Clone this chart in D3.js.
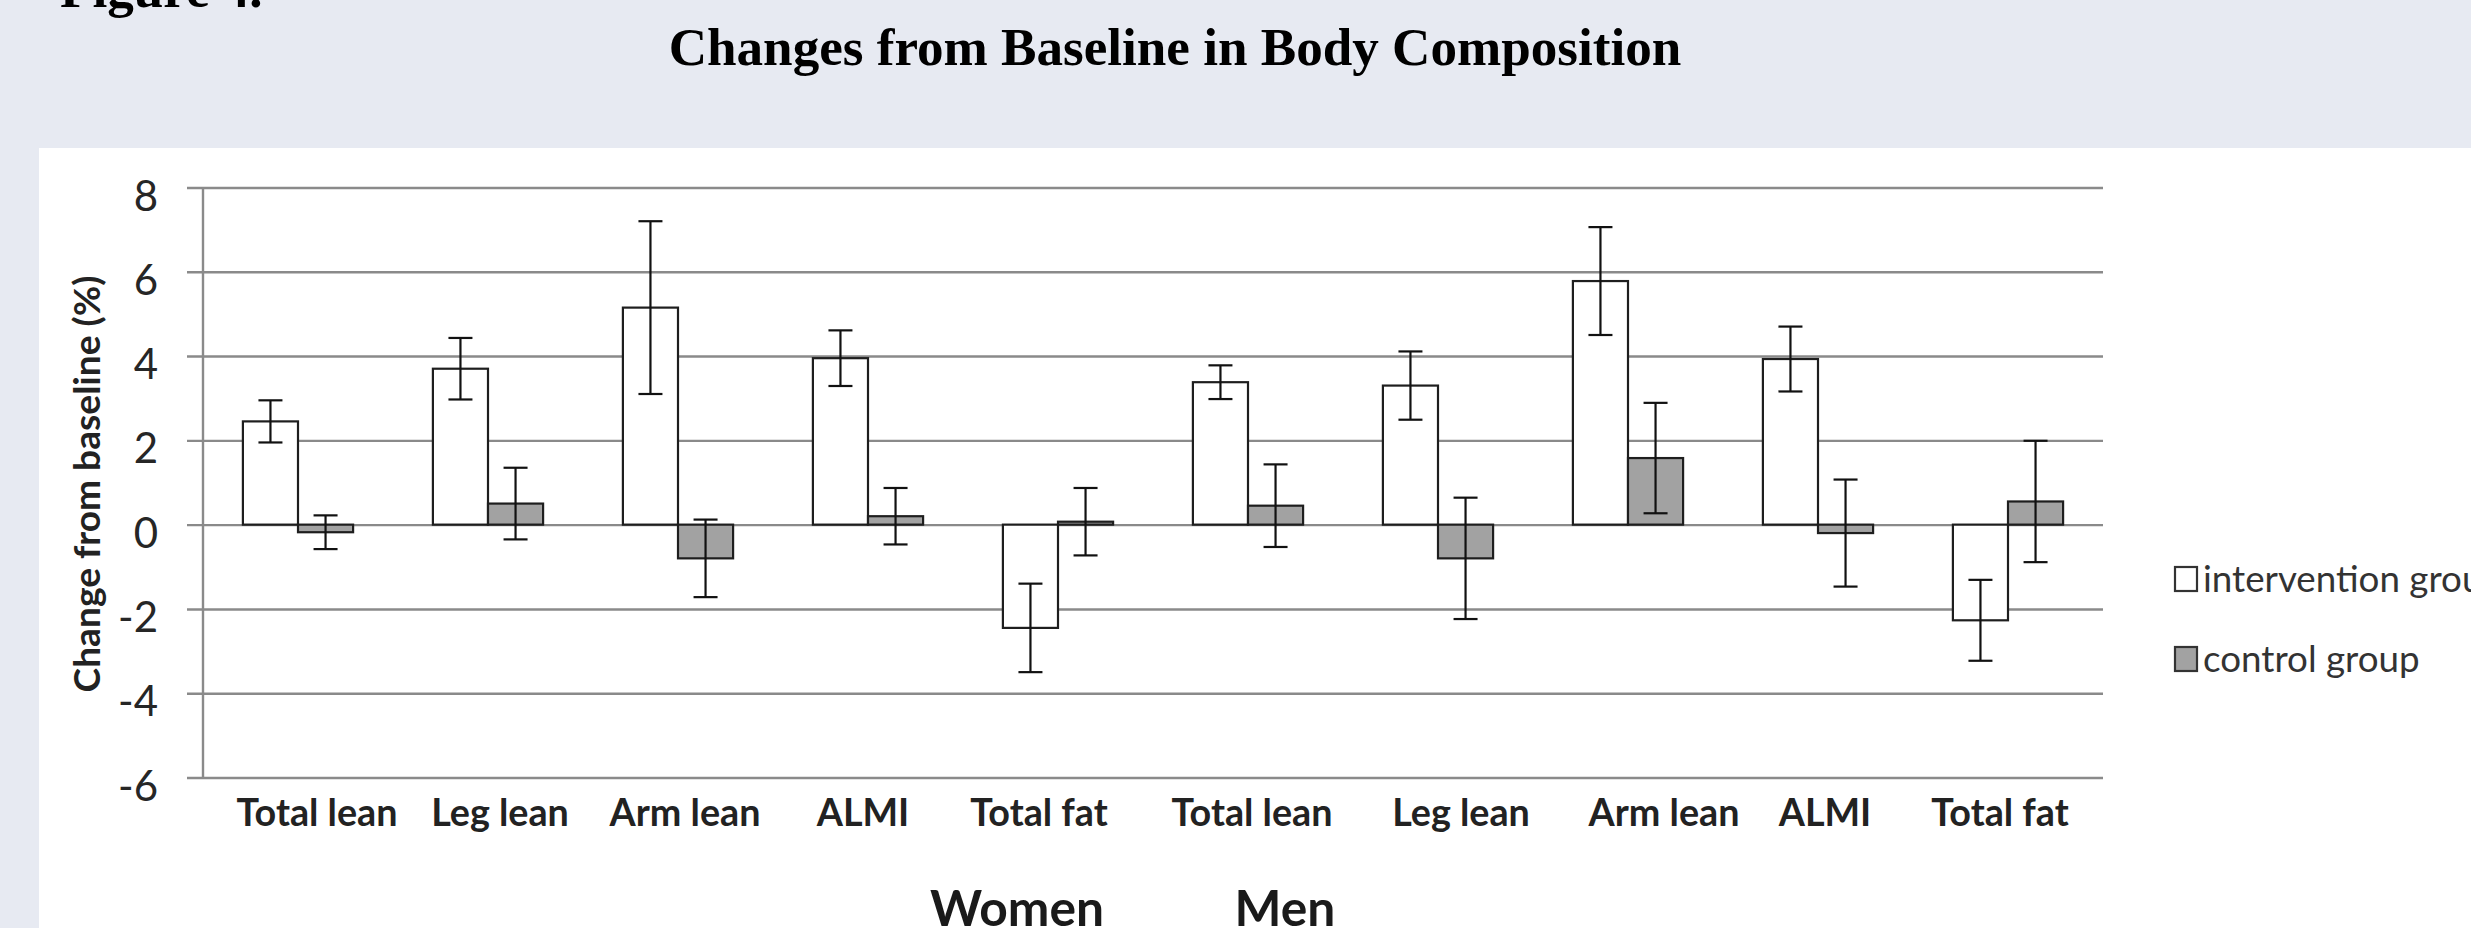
<!DOCTYPE html>
<html>
<head>
<meta charset="utf-8">
<script src="https://cdn.jsdelivr.net/npm/d3@7"></script>
<style>
  html, body { margin: 0; padding: 0; background: #e7eaf2; }
  svg { display: block; }
</style>
</head>
<body>
<svg id="chart" width="2471" height="928"></svg>
<script>
// ---------- data ----------
const categories = ["Total lean", "Leg lean", "Arm lean", "ALMI", "Total fat",
                    "Total lean", "Leg lean", "Arm lean", "ALMI", "Total fat"];
const sexLabels = ["Women", "Men"];
const seriesNames = ["intervention group", "control group"];
const intervention    = [2.45, 3.70, 5.15, 3.95, -2.45, 3.38, 3.30, 5.78, 3.93, -2.27];
const interventionErr = [0.50, 0.73, 2.05, 0.66,  1.05, 0.40, 0.81, 1.28, 0.77,  0.96];
const control         = [-0.18, 0.50, -0.80, 0.20, 0.07, 0.45, -0.80, 1.58, -0.20, 0.55];
const controlErr      = [0.40, 0.85, 0.92, 0.67, 0.80, 0.98, 1.44, 1.31, 1.27, 1.44];
const yTicks = [-6, -4, -2, 0, 2, 4, 6, 8];
const titleText = "Changes from Baseline in Body Composition";
const figureText = "Figure 4.";
const yTitle = "Change from baseline (%)";

// ---------- layout / style ----------
const W = 2471, H = 928;
const plot = { left: 203, right: 2103, top: 187.5, bottom: 777.5 };
const labelDx = [19, 12, 7, -5, -19, 4, 23, 36, 7, -8];
const sansFont = "Lato, 'Open Sans', sans-serif";
const serifFont = "'Liberation Serif', 'Times New Roman', serif";
const gridColor = "#8a8a8a";
const barStroke = "#1e1e1e";
const fills = ["#ffffff", "#a2a2a2"];

const svg = d3.select("#chart");

function fitSize(family, weight, text, target) {
  const t = svg.append("text").attr("font-family", family).attr("font-weight", weight)
    .attr("font-size", 100).text(text);
  const w = t.node().getComputedTextLength();
  t.remove();
  return 100 * target / w;
}

// background + white panel
svg.append("rect").attr("width", W).attr("height", H).attr("fill", "#e7eaf2");
svg.append("rect").attr("x", 39).attr("y", 148).attr("width", W - 39).attr("height", H - 148).attr("fill", "#ffffff");

// titles
const titleSize = fitSize(serifFont, "bold", titleText, 1013);
svg.append("text").attr("x", 1175).attr("y", 65).attr("text-anchor", "middle")
  .attr("font-family", serifFont).attr("font-weight", "bold").attr("font-size", titleSize)
  .attr("fill", "#000").text(titleText);
svg.append("text").attr("x", 60).attr("y", 7)
  .attr("font-family", serifFont).attr("font-weight", "bold").attr("font-size", titleSize)
  .attr("fill", "#000").text(figureText);

// scales
const idx = d3.range(categories.length);
const x0 = d3.scaleBand().domain(idx).range([plot.left, plot.right]).paddingInner(0.42).paddingOuter(0.21);
const x1 = d3.scaleBand().domain([0, 1]).range([0, x0.bandwidth()]);
const y = d3.scaleLinear().domain([-6, 8]).range([plot.bottom, plot.top]);

// gridlines (with tick stubs) via axis
const yAxis = d3.axisLeft(y).tickValues(yTicks).tickSize(-(plot.right - plot.left + 16)).tickFormat("");
const gy = svg.append("g").attr("transform", `translate(${plot.left - 16},0)`).call(yAxis);
gy.select(".domain").remove();
gy.selectAll(".tick line").attr("stroke", gridColor).attr("stroke-width", 2.4);

// vertical axis line
svg.append("line").attr("x1", plot.left).attr("x2", plot.left)
  .attr("y1", y(8)).attr("y2", y(-6)).attr("stroke", gridColor).attr("stroke-width", 2.4);

// y tick labels
const tickSize = 42;
svg.append("g").selectAll("text").data(yTicks).join("text")
  .attr("x", 158).attr("y", d => y(d) + 7).attr("dominant-baseline", "central")
  .attr("text-anchor", "end").attr("font-family", sansFont).attr("font-size", tickSize)
  .attr("fill", "#262626").text(d => d);

// y title
const yTitleSize = fitSize(sansFont, "bold", yTitle, 417);
svg.append("text").attr("transform", "translate(85,484) rotate(-90)")
  .attr("text-anchor", "middle").attr("dominant-baseline", "central")
  .attr("font-family", sansFont).attr("font-weight", "bold").attr("font-size", yTitleSize)
  .attr("fill", "#222").text(yTitle);

// bars
const series = [
  { vals: intervention, errs: interventionErr },
  { vals: control, errs: controlErr }
];
const barW = x1.bandwidth();
series.forEach((s, si) => {
  const g = svg.append("g");
  g.selectAll("rect").data(idx).join("rect")
    .attr("x", i => x0(i) + x1(si))
    .attr("y", i => y(Math.max(0, s.vals[i])))
    .attr("width", barW)
    .attr("height", i => Math.abs(y(s.vals[i]) - y(0)))
    .attr("fill", fills[si]).attr("stroke", barStroke).attr("stroke-width", 2.2);
});
// error bars
const cap = 12;
series.forEach((s, si) => {
  const g = svg.append("g").attr("stroke", "#111").attr("stroke-width", 2.2);
  idx.forEach(i => {
    const cx = x0(i) + x1(si) + barW / 2;
    const hi = y(s.vals[i] + s.errs[i]), lo = y(s.vals[i] - s.errs[i]);
    g.append("line").attr("x1", cx).attr("x2", cx).attr("y1", hi).attr("y2", lo);
    g.append("line").attr("x1", cx - cap).attr("x2", cx + cap).attr("y1", hi).attr("y2", hi);
    g.append("line").attr("x1", cx - cap).attr("x2", cx + cap).attr("y1", lo).attr("y2", lo);
  });
});

// category labels
const catSize = fitSize(sansFont, "bold", "Total lean", 161);
svg.append("g").selectAll("text").data(idx).join("text")
  .attr("x", i => x0(i) + x0.bandwidth() / 2 + labelDx[i]).attr("y", 826)
  .attr("text-anchor", "middle").attr("font-family", sansFont).attr("font-weight", "bold")
  .attr("font-size", catSize).attr("fill", "#222").text(i => categories[i]);

// sex labels
const sexSize = fitSize(sansFont, "bold", "Women", 174);
const midX = (plot.left + plot.right) / 2;
svg.append("g").selectAll("text").data(sexLabels).join("text")
  .attr("x", (d, i) => midX + (i === 0 ? -136 : 132)).attr("y", 890 + 0.72 * sexSize)
  .attr("text-anchor", "middle").attr("font-family", sansFont).attr("font-weight", "bold")
  .attr("font-size", sexSize).attr("fill", "#1a1a1a").text(d => d);

// legend
const legSize = fitSize(sansFont, "normal", "intervention", 197);
const leg = svg.append("g").selectAll("g").data(seriesNames).join("g")
  .attr("transform", (d, i) => `translate(2175,${567 + i * 80})`);
leg.append("rect").attr("width", 22).attr("height", 24)
  .attr("fill", (d, i) => fills[i]).attr("stroke", "#333").attr("stroke-width", 2.2);
leg.append("text").attr("x", 28).attr("y", 25)
  .attr("font-family", sansFont).attr("font-size", legSize).attr("fill", "#333").text(d => d);
</script>
</body>
</html>
